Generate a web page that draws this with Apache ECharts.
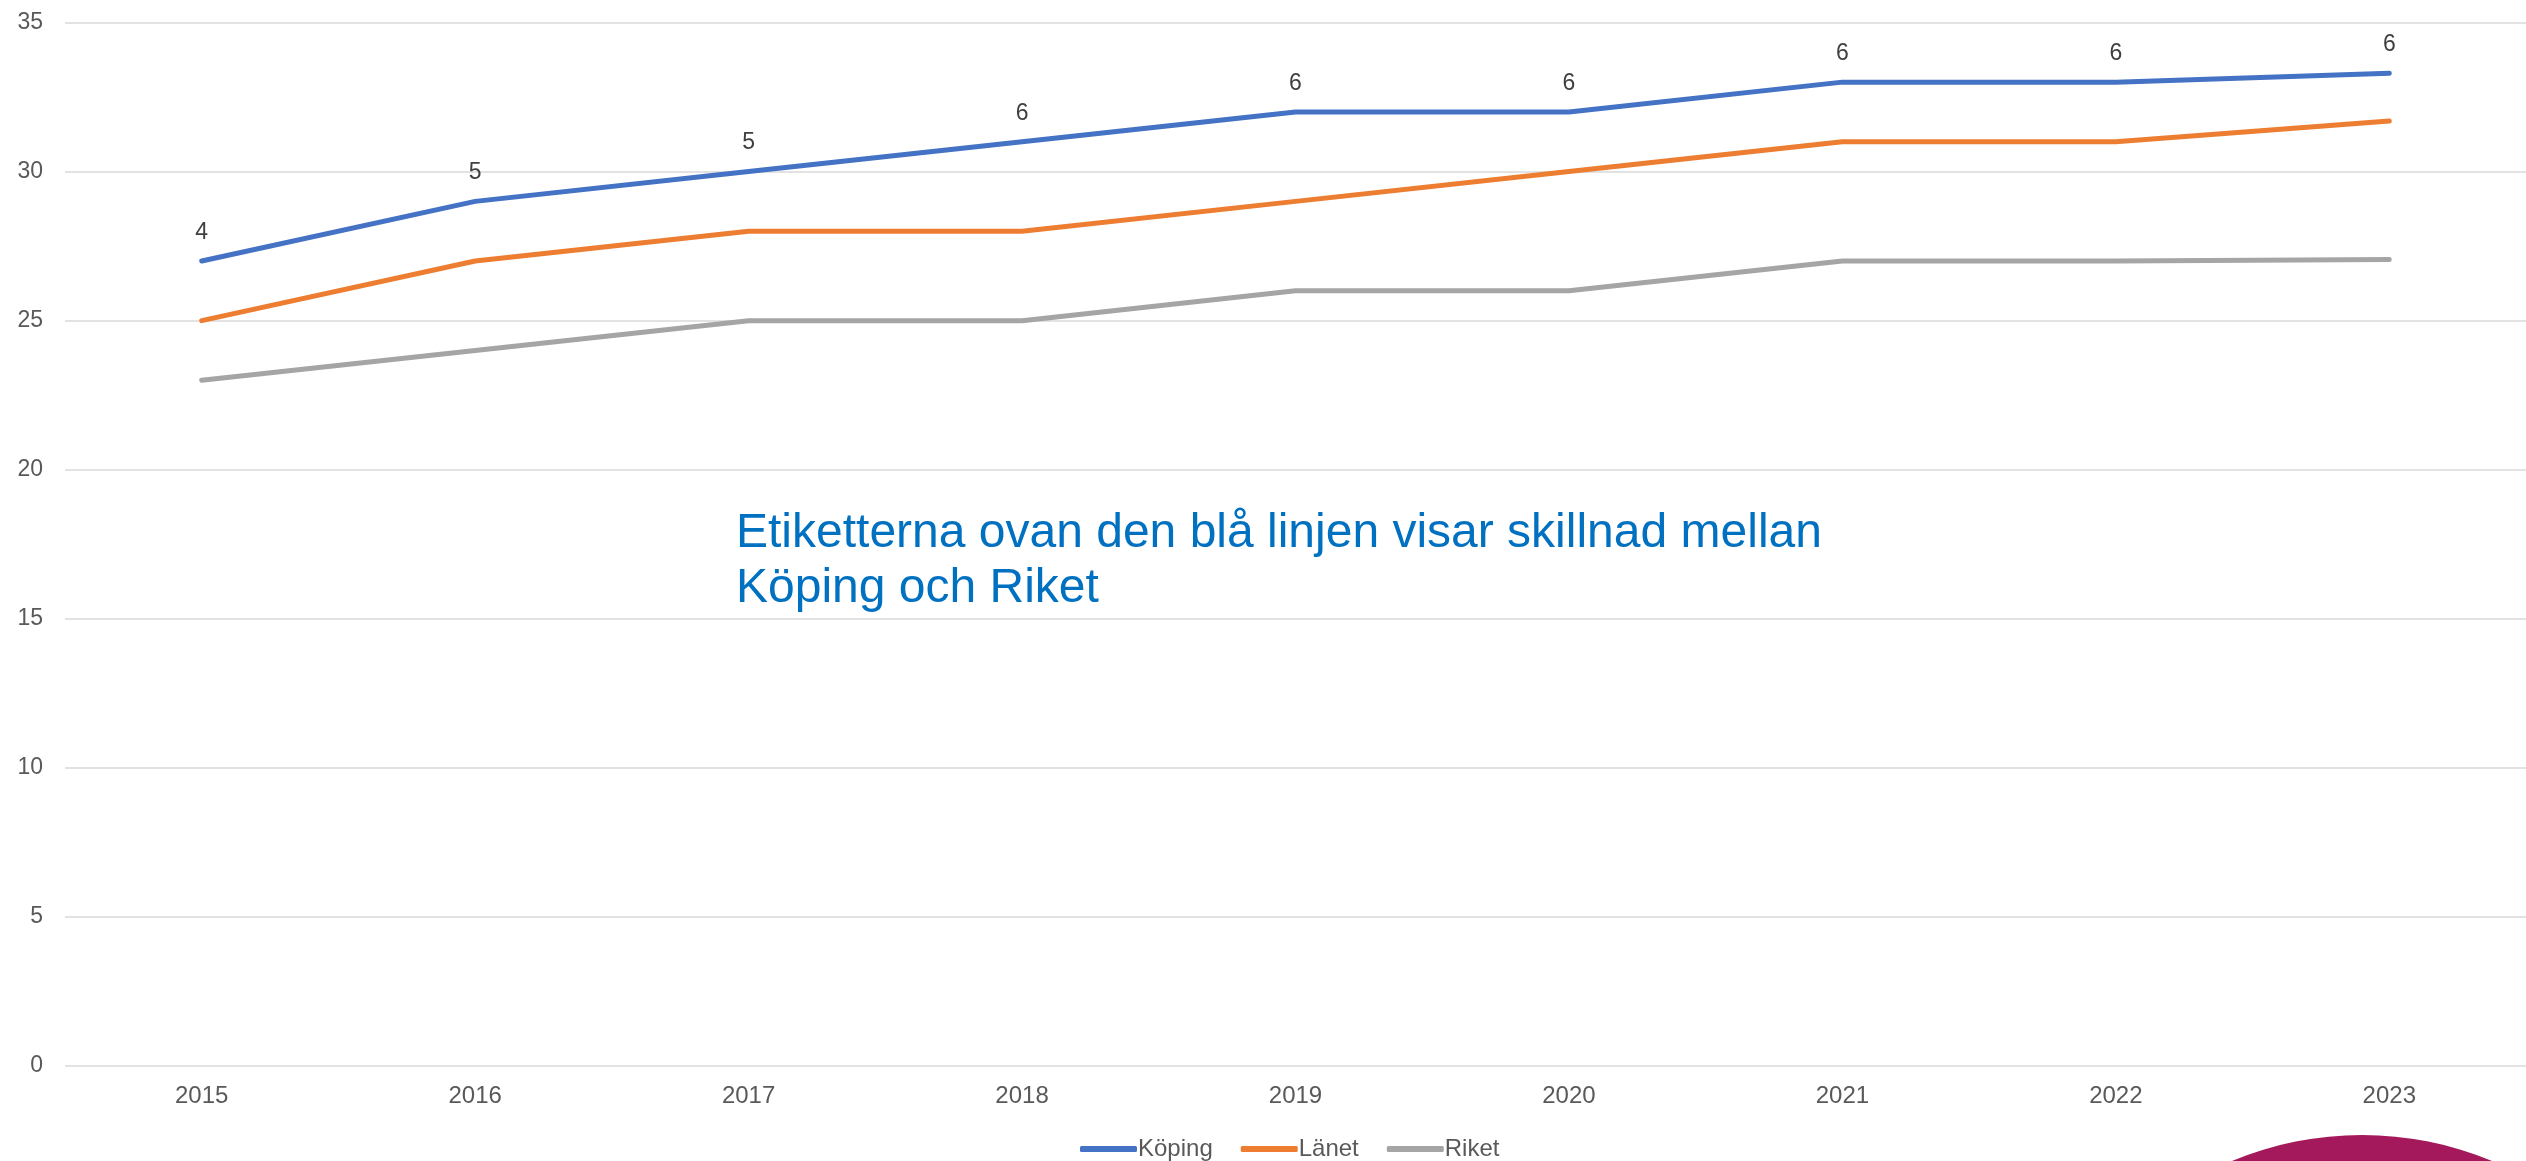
<!DOCTYPE html>
<html>
<head>
<meta charset="utf-8">
<script src="https://cdn.jsdelivr.net/npm/echarts@6/dist/echarts.min.js"></script>
<style>
html,body{margin:0;padding:0;background:#fff;}
#c{width:2526px;height:1161px;}
</style>
</head>
<body>
<div id="c"></div>
<script>
const years = ['2015','2016','2017','2018','2019','2020','2021','2022','2023'];
const koping = [27, 29, 30, 31, 32, 32, 33, 33, 33.3];
const lanet = [25, 27, 28, 28, 29, 30, 31, 31, 31.7];
const riket = [23, 24, 25, 25, 26, 26, 27, 27, 27.05];
const diffLabels = [4, 5, 5, 6, 6, 6, 6, 6, 6];
const yTicks = [0, 5, 10, 15, 20, 25, 30, 35];
const noteText = 'Etiketterna ovan den blå linjen visar skillnad mellan\nKöping och Riket';

const FONT = '"Liberation Sans", Arial, sans-serif';
const chart = echarts.init(document.getElementById('c'));
chart.setOption({
  backgroundColor: '#ffffff',
  animation: false,
  textStyle: {fontFamily: FONT},
  grid: {left: 65, right: 0, top: 22.5, bottom: 95, containLabel: false},
  xAxis: {
    type: 'category',
    data: years,
    boundaryGap: true,
    axisLine: {show: false},
    axisTick: {show: false},
    axisLabel: {color: '#595959', fontSize: 24, margin: 18, fontFamily: FONT}
  },
  yAxis: {
    type: 'value',
    min: yTicks[0],
    max: yTicks[yTicks.length - 1],
    interval: 5,
    axisLine: {show: false},
    axisTick: {show: false},
    axisLabel: {color: '#595959', fontSize: 23, margin: 22, fontFamily: FONT},
    splitLine: {lineStyle: {color: '#D9D9D9', width: 1.5}}
  },
  legend: {
    bottom: -5,
    left: 1075,
    itemWidth: 57,
    itemHeight: 6,
    itemGap: 28,
    textStyle: {color: '#595959', fontSize: 24, fontFamily: FONT, padding: [0, 0, 0, -4]},
    icon: 'roundRect',
    data: ['Köping', 'Länet', 'Riket']
  },
  series: [
    {
      name: 'Köping', type: 'line', data: koping,
      symbol: 'circle', symbolSize: 0, showSymbol: true,
      lineStyle: {color: '#4472C4', width: 5, cap: 'round', join: 'round'},
      itemStyle: {color: '#4472C4'},
      label: {
        show: true, position: 'top', distance: 17,
        color: '#404040', fontSize: 23, fontFamily: FONT,
        formatter: p => String(diffLabels[p.dataIndex])
      }
    },
    {
      name: 'Länet', type: 'line', data: lanet,
      symbol: 'none',
      lineStyle: {color: '#ED7D31', width: 5, cap: 'round', join: 'round'},
      itemStyle: {color: '#ED7D31'}
    },
    {
      name: 'Riket', type: 'line', data: riket,
      symbol: 'none',
      lineStyle: {color: '#A5A5A5', width: 5, cap: 'round', join: 'round'},
      itemStyle: {color: '#A5A5A5'}
    }
  ],
  graphic: [
    {
      type: 'text', left: 736, top: 506,
      style: {text: noteText, fill: '#0070C0', font: '48px "Liberation Sans", Arial, sans-serif', lineHeight: 55}
    },
    {
      type: 'circle', shape: {cx: 2362, cy: 1475, r: 340},
      style: {fill: '#A4195B'}, z: 0
    }
  ]
});
</script>
</body>
</html>
